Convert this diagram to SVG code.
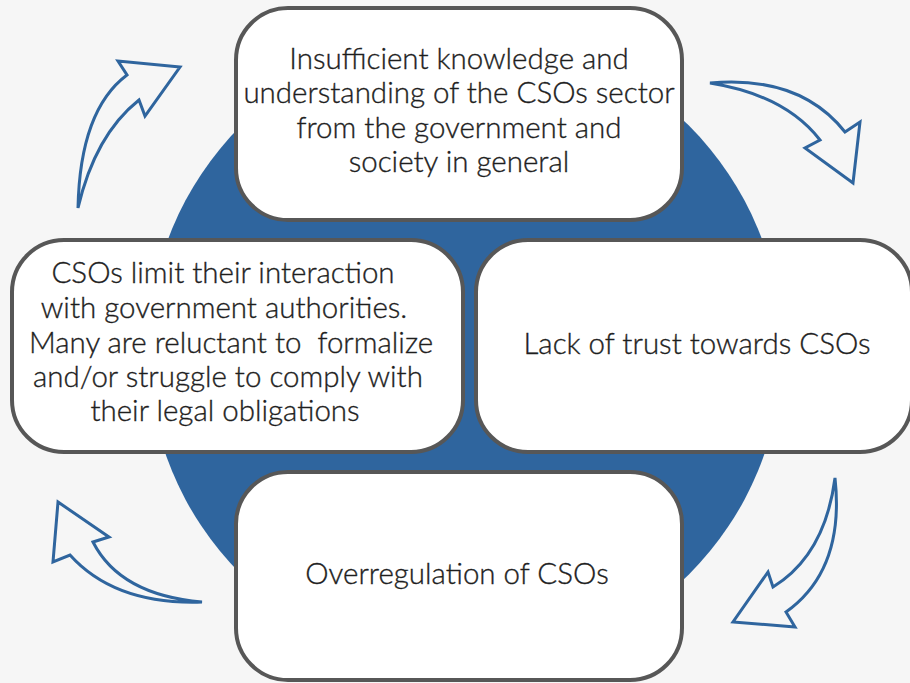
<svg xmlns="http://www.w3.org/2000/svg" width="910" height="683" viewBox="0 0 910 683">
<style>
.bg{fill:#f6f6f6}
.disc{fill:#2f659e}
.box{fill:#ffffff;stroke:#575757;stroke-width:4}
.lbl{font-family:"Lato","Open Sans",sans-serif;font-size:29.5px;font-weight:300;fill:#1e1e1e;stroke:#1e1e1e;stroke-width:0.35;text-anchor:middle;white-space:pre}
.arr{fill:#f6f6f6;stroke:#2f659e;stroke-width:3;stroke-linejoin:miter}
</style>
<rect class="bg" x="0" y="0" width="910" height="683"/>
<circle class="disc" cx="465" cy="350" r="317"/>
<g id="connectors">
<path class="arr" d="M78,208 Q80,110 127,75 L118,61 L180,67 L145,116 L139,100 Q95,135 78,208 Z"/>
<path class="arr" d="M710,83 Q800,75 845,132 L860,122 L853,183 L805,148 L820,140 Q785,95 710,83 Z"/>
<path class="arr" d="M835,478 Q845,570 786,612 L795,627 L733,622 L768,572 L773,587 Q825,555 835,478 Z"/>
<path class="arr" d="M202,602 Q115,605 70,555 L53,562 L58,502 L109,537 L93,542 Q120,595 202,602 Z"/>
</g>
<g id="node-top">
<rect class="box" x="236" y="8" width="446" height="212" rx="52"/>
<text class="lbl" x="459" y="69">Insufficient knowledge and</text>
<text class="lbl" x="459" y="103">understanding of the CSOs sector</text>
<text class="lbl" x="459" y="138">from the government and</text>
<text class="lbl" x="459" y="172">society in general</text>
</g>
<g id="node-left">
<rect class="box" x="12" y="240" width="451" height="212" rx="52"/>
<text class="lbl" x="223" y="283">CSOs limit their interaction</text>
<text class="lbl" x="224" y="318">with government authorities.</text>
<text class="lbl" x="231" y="353" xml:space="preserve">Many are reluctant to  formalize</text>
<text class="lbl" x="228" y="387">and/or struggle to comply with</text>
<text class="lbl" x="225" y="421">their legal obligations</text>
</g>
<g id="node-right">
<rect class="box" x="476" y="240" width="436" height="212" rx="52"/>
<text class="lbl" x="697" y="354">Lack of trust towards CSOs</text>
</g>
<g id="node-bottom">
<rect class="box" x="236" y="472" width="446" height="208" rx="52"/>
<text class="lbl" x="457" y="584">Overregulation of CSOs</text>
</g>
</svg>
